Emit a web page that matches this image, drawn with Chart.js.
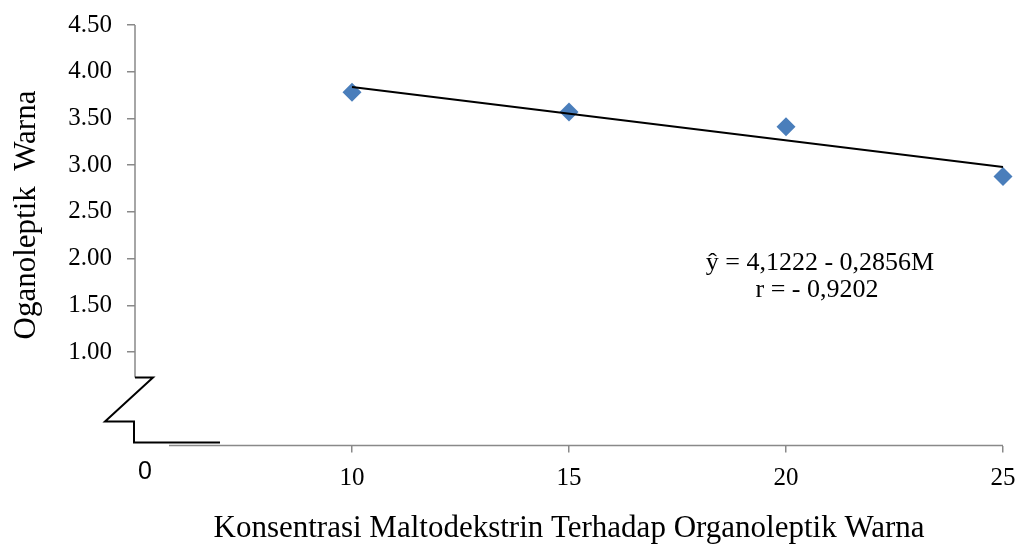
<!DOCTYPE html>
<html>
<head>
<meta charset="utf-8">
<script src="https://cdn.jsdelivr.net/npm/chart.js@4/dist/chart.umd.min.js"></script>
<style>
  body { margin: 0; background: #fff; }
  #wrap { width: 1022px; height: 549px; }
</style>
</head>
<body>
<div id="wrap"><canvas id="chart"></canvas></div>
<script>
// data
var konsentrasi = [10, 15, 20, 25];
var warna = [3.78, 3.57, 3.41, 2.88];
var trendX = [10, 25];
var trendY = [3.8366, 2.9798];
var yTitle = "Oganoleptik  Warna";
var xTitle = "Konsentrasi Maltodekstrin Terhadap Organoleptik Warna";
var persamaan = ["\u0177 = 4,1222 - 0,2856M", "r = - 0,9202"];

var serif = "'Liberation Serif', 'Times New Roman', serif";
var axisGray = "#898989";

var points = konsentrasi.map(function (k, i) { return { x: k, y: warna[i] }; });
var trend = trendX.map(function (k, i) { return { x: k, y: trendY[i] }; });

// axis lines, the break mark and loose texts
var extras = {
    id: 'extras',
    afterDraw: function (chart) {
        var ctx = chart.ctx;
        var xs = chart.scales.x, ys = chart.scales.y;
        var x0 = xs.left, yb = ys.getPixelForValue(0);
        ctx.save();
        // y axis line
        ctx.strokeStyle = axisGray;
        ctx.lineWidth = 1.5;
        ctx.beginPath();
        ctx.moveTo(x0, ys.getPixelForValue(4.5));
        ctx.lineTo(x0, yb - 68);
        ctx.stroke();
        // x axis line
        ctx.beginPath();
        ctx.moveTo(x0 + 34, yb);
        ctx.lineTo(xs.right, yb);
        ctx.stroke();
        // break mark
        ctx.strokeStyle = "#000";
        ctx.lineWidth = 2;
        ctx.beginPath();
        ctx.moveTo(x0, yb - 68);
        ctx.lineTo(x0 + 18, yb - 68);
        ctx.lineTo(x0 - 30, yb - 24);
        ctx.lineTo(x0 - 1, yb - 24);
        ctx.lineTo(x0 - 1, yb - 3);
        ctx.lineTo(x0 + 85, yb - 3);
        ctx.stroke();
        // "0" label
        ctx.fillStyle = "#000";
        ctx.font = "25px 'Liberation Sans', Arial, sans-serif";
        ctx.textAlign = "center";
        ctx.textBaseline = "middle";
        ctx.fillText("0", x0 + 10, yb + 27);
        // y title
        ctx.font = "31px " + serif;
        ctx.save();
        ctx.translate(27, 215);
        ctx.rotate(-Math.PI / 2);
        ctx.fillText(yTitle, 0, 0);
        ctx.restore();
        // equation
        ctx.font = "26px " + serif;
        ctx.fillText(persamaan[0], 820, 263);
        ctx.fillText(persamaan[1], 817, 290);
        ctx.restore();
    }
};

var config = {
    type: 'scatter',
    data: {
        datasets: [{
            label: 'Warna',
            data: points,
            pointStyle: 'rectRot',
            pointRadius: 9.5,
            pointHoverRadius: 9.5,
            backgroundColor: '#4a7ebb',
            borderWidth: 0,
            clip: false,
            order: 2
        }, {
            type: 'line',
            label: 'Trend',
            data: trend,
            borderColor: '#000',
            borderWidth: 2,
            pointRadius: 0,
            fill: false,
            clip: false,
            order: 1
        }]
    },
    plugins: [extras],
    options: {
        responsive: true,
        maintainAspectRatio: false,
        animation: false,
        layout: { padding: { left: 0, right: 19, top: 25, bottom: 0 } },
        plugins: {
            legend: { display: false },
            tooltip: { enabled: false }
        },
        scales: {
            x: {
                type: 'linear',
                min: 5,
                max: 25,
                afterFit: function (s) {
                    s.height = 103.5;
                    s.paddingLeft = 0;
                    s.paddingRight = 0;
                },
                border: { display: false },
                grid: {
                    drawOnChartArea: false,
                    tickLength: 7,
                    lineWidth: 1.5,
                    color: function (c) { return c.tick && c.tick.value > 5 ? axisGray : 'rgba(0,0,0,0)'; }
                },
                ticks: {
                    stepSize: 5,
                    padding: 11,
                    color: '#000',
                    font: { family: serif, size: 25 },
                    callback: function (v) { return v > 5 ? String(v) : ''; }
                },
                title: {
                    display: true,
                    text: xTitle,
                    color: '#000',
                    font: { family: serif, size: 31 },
                    padding: { top: 0, bottom: 2 }
                }
            },
            y: {
                min: 0,
                max: 4.5,
                afterFit: function (s) {
                    s.width = 135;
                    s.paddingTop = 0;
                    s.paddingBottom = 0;
                },
                border: { display: false },
                grid: {
                    drawOnChartArea: false,
                    tickLength: 8,
                    lineWidth: 1.5,
                    color: function (c) { return c.tick && c.tick.value >= 1 ? axisGray : 'rgba(0,0,0,0)'; }
                },
                ticks: {
                    stepSize: 0.5,
                    padding: 15,
                    color: '#000',
                    font: { family: serif, size: 25 },
                    callback: function (v) { return v >= 1 ? v.toFixed(2) : ''; }
                }
            }
        }
    }
};

window.onload = function () {
    var ctx = document.getElementById("chart").getContext("2d");
    window.myChart = new Chart(ctx, config);
};
</script>
</body>
</html>
